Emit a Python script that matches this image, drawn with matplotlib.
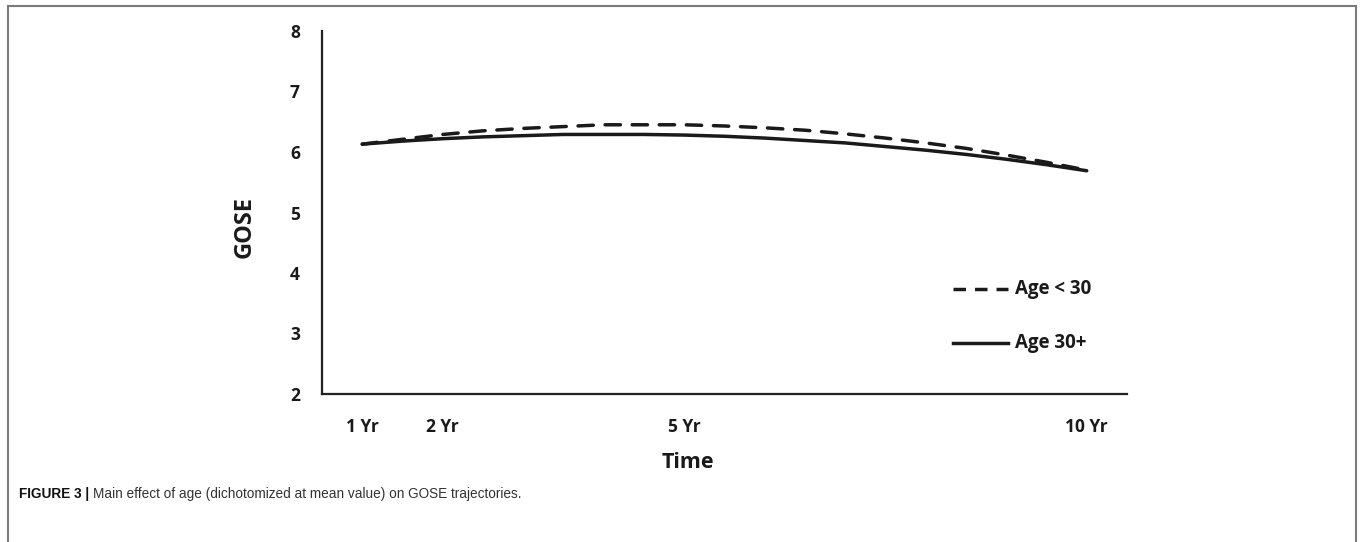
import matplotlib
matplotlib.use("Agg")
import matplotlib.pyplot as plt
from matplotlib.patches import Rectangle

# ---- data ----
years = [1, 1.5, 2, 2.5, 3, 3.5, 4, 4.5, 5, 5.5, 6, 6.5, 7, 7.5, 8, 8.5, 9, 9.5, 10]
age_under_30 = [6.13, 6.21, 6.29, 6.35, 6.39, 6.42, 6.45, 6.45, 6.45, 6.43, 6.40,
                6.36, 6.30, 6.23, 6.15, 6.06, 5.95, 5.83, 5.70]
age_30_plus = [6.13, 6.18, 6.22, 6.25, 6.27, 6.29, 6.29, 6.29, 6.28, 6.26, 6.23,
               6.19, 6.15, 6.09, 6.03, 5.96, 5.88, 5.79, 5.69]
xtick_pos = [1, 2, 5, 10]
xtick_labels = ["1 Yr", "2 Yr", "5 Yr", "10 Yr"]
ytick_pos = [2, 3, 4, 5, 6, 7, 8]
series_labels = ["Age < 30", "Age 30+"]
caption_bold = "FIGURE 3 | "
caption_text = "Main effect of age (dichotomized at mean value) on GOSE trajectories."

W, H = 1360, 542
fig = plt.figure(figsize=(W / 100, H / 100), dpi=100)
fig.patch.set_facecolor("white")

# outer frame
frame = Rectangle((8 / W, -0.2), (1356 - 8) / W, 1.2 - 6 / H, transform=fig.transFigure,
                  fill=False, edgecolor="#7a7a7a", linewidth=1.5, clip_on=False)
fig.add_artist(frame)

ax = fig.add_axes([322 / W, 1 - 394 / H, (1127 - 322) / W, (394 - 31) / H])
ax.set_facecolor("white")
ink = "#1a1a1a"
lw = 2.5
dash = (0, (4.4, 3.4))
ax.plot(years, age_under_30, color=ink, linewidth=lw, linestyle=dash,
        dash_capstyle="round", solid_capstyle="round")
ax.plot(years, age_30_plus, color=ink, linewidth=lw, solid_capstyle="round")

ax.set_xlim(0.5, 10.5)
ax.set_ylim(2, 8)
for s in ["top", "right"]:
    ax.spines[s].set_visible(False)
for s in ["left", "bottom"]:
    ax.spines[s].set_color("#222222")
    ax.spines[s].set_linewidth(1.6)

tick_font = dict(family=["Open Sans", "DejaVu Sans"], weight="bold", size=12.5)
ax.set_xticks(xtick_pos)
ax.set_xticklabels(xtick_labels, **tick_font, color=ink)
ax.set_yticks(ytick_pos)
ax.set_yticklabels([str(v) for v in ytick_pos], **tick_font, color=ink)
ax.tick_params(axis="both", length=0)
ax.tick_params(axis="y", pad=16)
ax.tick_params(axis="x", pad=17)

# axis titles
fig.text(688 / W, 1 - 462 / H, "Time", ha="center", va="center",
         family=["Open Sans", "DejaVu Sans"], weight="bold", size=15.5, color=ink)
fig.text(245 / W, 1 - 227 / H, "GOSE", ha="center", va="center", rotation=90,
         family=["Open Sans", "DejaVu Sans"], weight="bold", size=17, color=ink)

# legend drawn by hand (line samples + labels)
leg_y_px = [289, 343]
styles = [(0, (3.6, 2.6)), "-"]
for lab, ypx, st in zip(series_labels, leg_y_px, styles):
    yf = 1 - ypx / H
    fig.add_artist(plt.Line2D([953 / W, 1008 / W], [yf, yf], transform=fig.transFigure,
                              color=ink, linewidth=lw, linestyle=st))
    fig.text(1015 / W, yf, lab, ha="left", va="center",
             family=["Open Sans", "DejaVu Sans"], weight="bold", size=13.5, color=ink)

# caption
cap_font = ["Liberation Sans Narrow", "Liberation Sans", "DejaVu Sans"]
t1 = fig.text(19 / W, 1 - 494 / H, caption_bold, ha="left", va="center",
              family=cap_font, weight="bold", size=9.8, color="#111111")
ax.annotate(caption_text, xy=(1, 0.5), xycoords=t1, ha="left", va="center",
            family=cap_font, size=9.8, color="#333333", annotation_clip=False)

fig.savefig("out.png", dpi=100, facecolor="white")
